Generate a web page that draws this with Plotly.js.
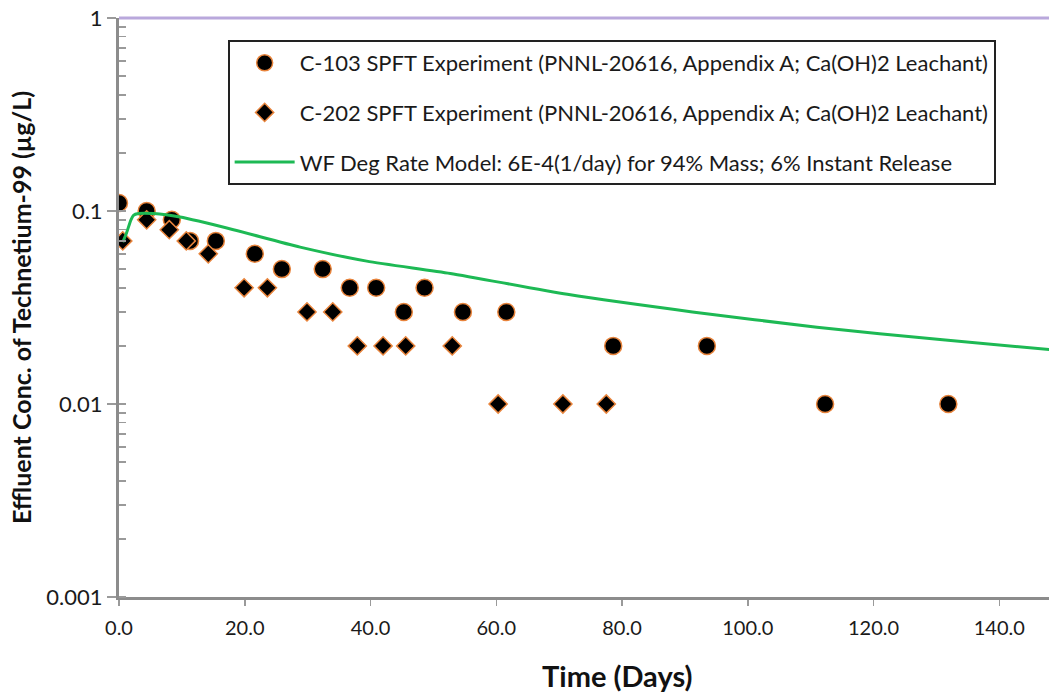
<!DOCTYPE html>
<html>
<head>
<meta charset="utf-8">
<script src="https://cdn.plot.ly/plotly-3.0.1.min.js"></script>
<style>
html, body { margin:0; padding:0; overflow:hidden; background:#fff; }
#chart { width:1126px; height:694px; }
</style>
</head>
<body>
<div id="chart"></div>
<script>
// ---- data ----
const c103Days = [0, 4.4, 8.4, 11.3, 15.4, 21.6, 25.9, 32.4, 36.7, 40.9, 45.3, 48.6, 54.7, 61.6, 78.6, 93.5, 112.3, 131.9];
const c103Conc = [0.11, 0.1, 0.09, 0.07, 0.07, 0.06, 0.05, 0.05, 0.04, 0.04, 0.03, 0.04, 0.03, 0.03, 0.02, 0.02, 0.01, 0.01];

const c202Days = [0.6, 4.4, 8.0, 10.7, 14.2, 19.9, 23.6, 29.9, 34.0, 37.9, 42.0, 45.6, 53.0, 60.3, 70.6, 77.5];
const c202Conc = [0.07, 0.09, 0.08, 0.07, 0.06, 0.04, 0.04, 0.03, 0.03, 0.02, 0.02, 0.02, 0.02, 0.01, 0.01, 0.01];

const modelDays = [0.6, 1.2, 1.9, 2.3, 3.1, 5.5, 9.7, 18.2, 28.8, 39.4, 52.7, 71.3, 91.2, 111, 131, 149];
const modelConc = [0.069, 0.077, 0.090, 0.095, 0.097, 0.097, 0.093, 0.080, 0.065, 0.055, 0.0475, 0.037, 0.030, 0.025, 0.0215, 0.019];

const yTickVals = [0.001, 0.01, 0.1, 1];
const yTickText = ['0.001', '0.01', '0.1', '1'];

const names = [
  'C-103 SPFT Experiment (PNNL-20616, Appendix A; Ca(OH)2 Leachant)',
  'C-202 SPFT Experiment (PNNL-20616, Appendix A; Ca(OH)2 Leachant)',
  'WF Deg Rate Model: 6E-4(1/day) for 94% Mass; 6% Instant Release'
];

// minor log tick positions (axis configuration)
const minorVals = [];
[0.001, 0.01, 0.1].forEach(d => { for (let k = 1; k <= 9; k++) minorVals.push(k * d); });
minorVals.push(1);

const FONT = 'Lato, "Open Sans", sans-serif';

const traces = [
  {
    x: c103Days, y: c103Conc, name: names[0], type: 'scatter', mode: 'markers',
    legendgroup: 'a',
    marker: { symbol: 'circle', size: 17, color: '#000', line: { color: '#e8843c', width: 1.5 } }
  },
  {
    x: c202Days, y: c202Conc, name: names[1], type: 'scatter', mode: 'markers',
    legendgroup: 'b',
    marker: { symbol: 'diamond', size: 14, color: '#000', line: { color: '#e8843c', width: 1.5 } }
  },
  {
    x: modelDays, y: modelConc, name: names[2], type: 'scatter', mode: 'lines',
    legendgroup: 'c',
    line: { color: '#1db954', width: 3, shape: 'spline', smoothing: 0.6 }
  }
];

const layout = {
  width: 1126, height: 694,
  margin: { l: 119, r: 1, t: 18, b: 97 },
  paper_bgcolor: '#fff', plot_bgcolor: '#fff',
  font: { family: FONT, color: '#1a1a1a', size: 20 },
  showlegend: true,
  legend: {
    x: 0.108, xanchor: 'left', y: 0.962, yanchor: 'top',
    bgcolor: '#fff', bordercolor: '#222', borderwidth: 2,
    font: { family: FONT, size: 22, color: '#1a1a1a' },
    tracegroupgap: 18, itemwidth: 60
  },
  xaxis: {
    range: [0, 160], dtick: 20, tick0: 0, tickformat: '.1f',
    showgrid: false, zeroline: false,
    showline: true, linecolor: '#8c8c8c', linewidth: 3,
    ticks: 'outside', ticklen: 6, tickwidth: 1.5, tickcolor: '#9a9a9a',
    ticklabelstandoff: 5,
    tickfont: { family: FONT, size: 20, color: '#1a1a1a' }
  },
  yaxis: {
    type: 'log', range: [-3, 0],
    tickmode: 'array', tickvals: yTickVals, ticktext: yTickText,
    showgrid: false, zeroline: false,
    showline: true, linecolor: '#8c8c8c', linewidth: 3,
    ticks: 'outside', ticklen: 9, tickwidth: 1.5, tickcolor: '#9a9a9a',
    tickfont: { family: FONT, size: 22, color: '#1a1a1a' },
    minor: { tickmode: 'array', tickvals: minorVals, ticks: 'inside', ticklen: 7, tickwidth: 1.5, tickcolor: '#9a9a9a', showgrid: false },
    title: { text: 'Effluent Conc. of Technetium-99 (µg/L)', font: { family: FONT, size: 25, color: '#111', weight: 'bold' }, standoff: 8 },
    automargin: false
  },
  annotations: [
    {
      text: '<b>Time (Days)</b>', xref: 'paper', yref: 'paper', x: 0.495, y: -0.135,
      xanchor: 'center', yanchor: 'middle', showarrow: false,
      font: { family: FONT, size: 29, color: '#111' }
    }
  ],
  shapes: [
    { type: 'line', xref: 'paper', yref: 'paper', x0: 0, x1: 1, y0: 1, y1: 1, line: { color: '#b9a8dc', width: 3 }, layer: 'above' }
  ]
};

Plotly.newPlot('chart', traces, layout, { displayModeBar: false, staticPlot: true });
</script>
</body>
</html>
